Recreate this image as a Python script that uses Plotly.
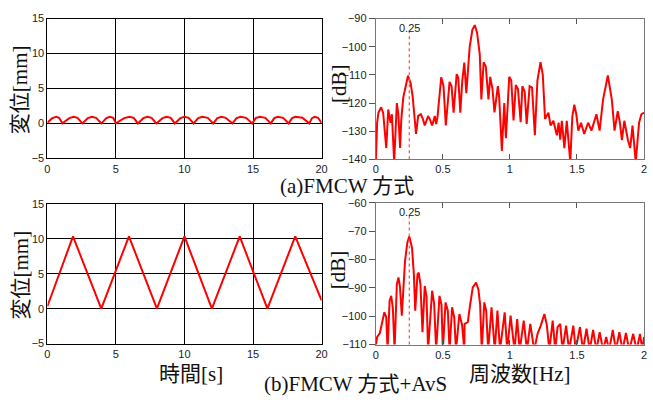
import plotly.graph_objects as go

# ---------------- data ----------------
# (a) FMCW: displacement vs time
t_a = [0, 0.35, 0.65, 0.85, 1.1, 1.6, 1.92, 2.2, 2.55, 2.95, 3.24, 3.55, 3.95,
       4.3, 4.56, 4.8, 5.0, 5.6, 6.0, 6.3, 6.6, 7.0, 7.3, 7.6, 7.95, 8.4, 8.7, 9.0, 9.3,
       9.7, 10.0, 10.3, 10.67, 11.0, 11.3, 11.7, 12.1, 12.4, 12.7, 13.0, 13.5,
       13.8, 14.1, 14.5, 14.94, 15.2, 15.5, 15.9, 16.3, 16.55, 16.8, 17.2, 17.6,
       17.85, 18.1, 18.6, 19.1, 19.3, 19.5, 19.75, 20]
d_a = [0.1, 0.75, 0.95, 0.8, 0.0, 0.75, 0.95, 0.8, 0.0, 0.75, 0.95, 0.8, 0.0,
       0.75, 0.95, 0.8, 0.0, 0.75, 0.95, 0.8, 0.0, 0.75, 0.95, 0.8, 0.0, 0.75, 0.95, 0.8, 0.0,
       0.75, 0.95, 0.8, 0.0, 0.75, 0.95, 0.8, 0.0, 0.75, 0.95, 0.8, 0.0,
       0.75, 0.95, 0.8, 0.0, 0.75, 0.95, 0.8, 0.0, 0.75, 0.95, 0.8, 0.0,
       0.75, 0.95, 0.8, 0.0, 0.75, 0.95, 0.8, 0.05]

# (a) FMCW: spectrum
f_a = [0.0, 0.01, 0.02, 0.04, 0.055, 0.065, 0.078, 0.093, 0.105, 0.11, 0.12, 0.137, 0.157,
       0.168, 0.181, 0.19, 0.205, 0.24, 0.26, 0.275, 0.3, 0.316, 0.336, 0.35, 0.365, 0.39,
       0.405, 0.42, 0.44, 0.45, 0.46, 0.47, 0.488, 0.505, 0.522, 0.55, 0.565, 0.58, 0.603,
       0.615, 0.63, 0.645, 0.66, 0.675, 0.69, 0.70, 0.72, 0.738, 0.755, 0.775, 0.787, 0.804,
       0.82, 0.84, 0.853, 0.87, 0.885, 0.91, 0.92, 0.94, 0.958, 0.97, 0.995, 1.01, 1.027,
       1.044, 1.06, 1.08, 1.093, 1.11, 1.125, 1.147, 1.165, 1.186, 1.205, 1.228, 1.245,
       1.262, 1.287, 1.303, 1.324, 1.35, 1.363, 1.375, 1.387, 1.406, 1.424, 1.45, 1.465,
       1.48, 1.495, 1.51, 1.53, 1.554, 1.583, 1.608, 1.645, 1.669, 1.694, 1.73, 1.76, 1.78,
       1.804, 1.82, 1.835, 1.853, 1.88, 1.897, 1.914, 1.938, 1.963, 1.98, 2.0]
p_a = [-141, -127, -123.4, -121.5, -123.5, -128, -136, -122.3, -125, -127, -124, -141, -120,
       -124, -136, -126, -118, -110.3, -113, -117.7, -131, -124.6, -124, -125.5, -128, -124.6,
       -126, -128, -124.6, -127.5, -125, -120, -110.8, -114, -128, -112.5, -114, -123.4, -109.7,
       -111, -123.4, -112, -105.6, -116.5, -105, -100, -94, -92.3, -95, -102.6, -118.7, -105.5,
       -107, -118.7, -110.7, -115, -123.3, -114, -118, -137, -120, -132.5, -110.7, -112, -126.2,
       -113.6, -115, -126.8, -114, -116, -127.4, -114, -114.5, -131.4, -112, -105.5, -110,
       -125.7, -123.4, -128, -126.3, -131.5, -127, -133, -126.3, -136, -126.3, -141, -125,
       -120.6, -124, -129.8, -127, -131, -127, -129.8, -124, -129.8, -118.9, -110.2, -118.9, -129.8,
       -122.9, -127, -133.2, -126.3, -133.2, -136, -128, -141, -127, -124, -123.4]

# (b) FMCW + AvS: displacement vs time
t_b = [0, 1.87, 3.93, 5.95, 7.99, 10.0, 12.0, 14.03, 16.05, 18.08, 20]
d_b = [0.35, 10.35, 0.0, 10.35, 0.0, 10.35, 0.0, 10.35, 0.0, 10.35, 1.2]

# (b) FMCW + AvS: spectrum
f_b = [0.0, 0.01, 0.03, 0.047, 0.064, 0.078, 0.088, 0.103, 0.115, 0.127, 0.14, 0.157, 0.169,
       0.18, 0.194, 0.218, 0.235, 0.25, 0.27, 0.284, 0.294, 0.311, 0.32, 0.333, 0.348, 0.365,
       0.378, 0.39, 0.42, 0.435, 0.45, 0.475, 0.49, 0.5, 0.52, 0.537, 0.55, 0.569, 0.585,
       0.598, 0.623, 0.643, 0.66, 0.662, 0.686, 0.70, 0.723, 0.748, 0.765, 0.778, 0.79, 0.809,
       0.823, 0.838, 0.863, 0.887, 0.907, 0.926, 0.961, 0.98, 1.005, 1.034, 1.054, 1.073,
       1.103, 1.127, 1.152, 1.181, 1.206, 1.23, 1.257, 1.275, 1.294, 1.319, 1.338, 1.355,
       1.375, 1.392, 1.419, 1.441, 1.473, 1.49, 1.522, 1.545, 1.571, 1.595, 1.62, 1.645,
       1.669, 1.695, 1.718, 1.74, 1.767, 1.79, 1.816, 1.84, 1.865, 1.89, 1.919, 1.945, 1.97,
       1.988, 2.0]
p_b = [-110.5, -107.3, -106, -102.7, -98.6, -100.3, -112, -94.5, -92.8, -97, -112, -88.7, -86.3,
       -89.5, -99.8, -80.5, -74, -71.8, -75.8, -85.2, -98, -85.2, -84.6, -88.7, -105.6, -89.3,
       -93, -112, -91, -95.5, -112, -92.8, -96, -112, -95.1, -98, -112, -96.8, -100.5,
       -112, -99.2, -103, -112, -102.7, -102.1, -97, -89.8, -88.1, -90.5, -96, -112, -95.1,
       -98, -112, -96.8, -112, -98, -112, -98.6, -112, -99.8, -112, -101, -112,
       -101.5, -112, -102.7, -112, -106.2, -103.3, -99.2, -103, -112, -101.5, -112, -103.8,
       -102.7, -112, -103.3, -112, -103.3, -112, -103.8, -112, -104.4, -112, -104.8, -112,
       -105.6, -112, -107.3, -112, -104.8, -112, -105.6, -112, -105.9, -112, -106.2, -112, -106.2,
       -112, -107.3]

marker_f = 0.25
marker_label = "0.25"

# ---------------- figure ----------------
RED = "#ff0000"
SERIF = "Liberation Serif, Times New Roman, Noto Sans CJK JP, serif"
SANS = "Liberation Sans, Arial, sans-serif"

fig = go.Figure()
fig.add_trace(go.Scatter(x=t_a, y=d_a, mode="lines", line=dict(color=RED, width=2),
                         xaxis="x", yaxis="y", showlegend=False))
fig.add_trace(go.Scatter(x=f_a, y=p_a, mode="lines", line=dict(color=RED, width=2),
                         xaxis="x2", yaxis="y2", showlegend=False))
fig.add_trace(go.Scatter(x=t_b, y=d_b, mode="lines", line=dict(color=RED, width=2),
                         xaxis="x3", yaxis="y3", showlegend=False))
fig.add_trace(go.Scatter(x=f_b, y=p_b, mode="lines", line=dict(color=RED, width=2),
                         xaxis="x4", yaxis="y4", showlegend=False))

W, H = 653, 403


def px(x):
    return x / W


def py(y):
    return 1 - y / H


tickfont = dict(family=SANS, size=11, color="#222")

left_x = dict(range=[0, 20], tickvals=[0, 5, 10, 15, 20], showgrid=True, gridcolor="#000",
              gridwidth=1, zeroline=False, showline=True, linecolor="#000", linewidth=1,
              mirror=True, ticks="", tickfont=tickfont)
left_y = dict(range=[-5, 15], tickvals=[-5, 0, 5, 10, 15], showgrid=True, gridcolor="#000",
              gridwidth=1, zeroline=False, showline=True, linecolor="#000", linewidth=1,
              mirror=True, ticks="", tickfont=tickfont)
right_x = dict(range=[0, 2], tickvals=[0, 0.5, 1, 1.5, 2], ticktext=["0", "0.5", "1", "1.5", "2"],
               showgrid=False, zeroline=False, showline=True, linecolor="#777", linewidth=1,
               mirror="ticks", ticks="inside", ticklen=5, tickcolor="#555", tickfont=tickfont)
right_y = dict(showgrid=False, zeroline=False, showline=True, linecolor="#777", linewidth=1,
               mirror=True, ticks="outside", ticklen=6, tickcolor="#555", tickfont=tickfont)

fig.update_layout(
    width=W, height=H, margin=dict(l=0, r=0, t=0, b=0),
    paper_bgcolor="white", plot_bgcolor="white",
    xaxis=dict(left_x, domain=[px(45), px(323)], anchor="y"),
    yaxis=dict(left_y, domain=[py(157), py(13)], anchor="x"),
    xaxis2=dict(right_x, domain=[px(378), px(650)], anchor="y2"),
    yaxis2=dict(right_y, domain=[py(158), py(13)], anchor="x2", range=[-140, -90],
                tickvals=[-140, -130, -120, -110, -100, -90]),
    xaxis3=dict(left_x, domain=[px(45), px(323)], anchor="y3"),
    yaxis3=dict(left_y, domain=[py(348), py(204)], anchor="x3"),
    xaxis4=dict(right_x, domain=[px(378), px(650)], anchor="y4"),
    yaxis4=dict(right_y, domain=[py(349), py(203)], anchor="x4", range=[-110, -60],
                tickvals=[-110, -100, -90, -80, -70, -60]),
    # inward right-side ticks for the spectra
    yaxis5=dict(overlaying="y2", side="right", anchor="x2", range=[-140, -90],
                tickvals=[-140, -130, -120, -110, -100, -90], ticks="inside", ticklen=6,
                tickcolor="#555", showticklabels=False, showgrid=False, zeroline=False),
    yaxis6=dict(overlaying="y4", side="right", anchor="x4", range=[-110, -60],
                tickvals=[-110, -100, -90, -80, -70, -60], ticks="inside", ticklen=6,
                tickcolor="#555", showticklabels=False, showgrid=False, zeroline=False),
)

# vertical dotted marker at 0.25 Hz
for xr, yr in (("x2", "y2"), ("x4", "y4")):
    fig.add_shape(type="line", xref=xr, yref=yr + " domain", x0=marker_f, x1=marker_f,
                  y0=0, y1=0.93, line=dict(color="#ff5555", width=1.3, dash="dot"))
    fig.add_annotation(xref=xr, yref=yr + " domain", x=marker_f, y=0.99, text=marker_label,
                       showarrow=False, yanchor="top", xanchor="center",
                       font=dict(family=SANS, size=11, color="#222"))

title_font = dict(family=SERIF, size=21, color="#111")
texts = [
    ("変位[mm]", 18, 86, -90),
    ("[dB]", 340, 80, -90),
    ("変位[mm]", 18, 277, -90),
    ("[dB]", 340, 272, -90),
    ("時間[s]", 191, 379, 0),
    ("周波数[Hz]", 524, 379, 0),
]
for txt, x, y, ang in texts:
    fig.add_annotation(xref="paper", yref="paper", x=px(x), y=py(y), text=txt,
                       showarrow=False, textangle=ang, xanchor="center", yanchor="middle",
                       font=title_font)

cap_font = dict(family=SERIF, size=21, color="#111")
fig.add_annotation(xref="paper", yref="paper", x=px(349), y=py(186), text="(a)FMCW 方式",
                   showarrow=False, xanchor="center", yanchor="middle", font=cap_font)
fig.add_annotation(xref="paper", yref="paper", x=px(357), y=py(390), text="(b)FMCW 方式+AvS",
                   showarrow=False, xanchor="center", yanchor="middle", font=cap_font)

fig.write_html("out.html")
